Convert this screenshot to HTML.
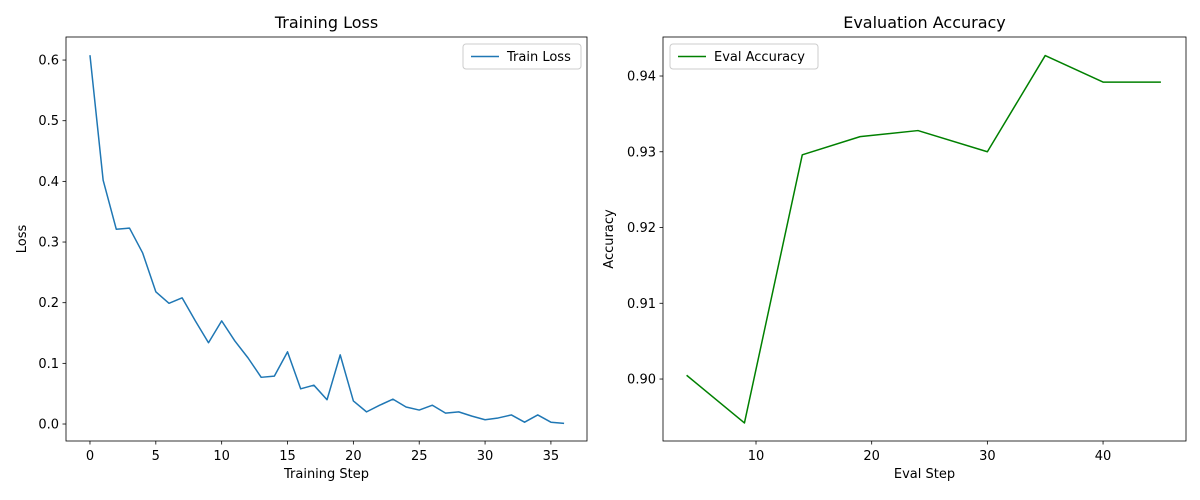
<!DOCTYPE html>
<html><head><meta charset="utf-8"><style>
html,body{margin:0;padding:0;background:#fff;}
svg{display:block;font-family:"DejaVu Sans","Liberation Sans",sans-serif;}
</style></head><body>
<svg id="chart" width="1200" height="500"></svg>
<script>
const lossSteps = [0,1,2,3,4,5,6,7,8,9,10,11,12,13,14,15,16,17,18,19,20,21,22,23,24,25,26,27,28,29,30,31,32,33,34,35,36];
const lossValues = [0.608,0.402,0.321,0.323,0.282,0.218,0.199,0.208,0.170,0.134,0.170,0.137,0.109,0.077,0.079,0.119,0.058,0.064,0.040,0.114,0.038,0.020,0.031,0.041,0.028,0.023,0.031,0.018,0.020,0.013,0.007,0.010,0.015,0.003,0.015,0.003,0.001];
const lossXTicks = [0,5,10,15,20,25,30,35];
const lossYTicks = [0.0,0.1,0.2,0.3,0.4,0.5,0.6];
const evalSteps = [4,9,14,19,24,30,35,40,45];
const evalValues = [0.9005,0.8942,0.9296,0.9320,0.9328,0.9300,0.9427,0.9392,0.9392];
const evalXTicks = [10,20,30,40];
const evalYTicks = [0.90,0.91,0.92,0.93,0.94];

const NS = "http://www.w3.org/2000/svg";
const svg = document.getElementById('chart');
function mk(tag, attrs, parent, text){
  const e = document.createElementNS(NS, tag);
  for (const k in attrs) e.setAttribute(k, attrs[k]);
  if (text !== undefined) e.textContent = text;
  (parent || svg).appendChild(e);
  return e;
}
function panel(o){
  const g = mk('g', {});
  
  
  const sx = v => o.x0 + (v - o.xmin) / (o.xmax - o.xmin) * (o.x1 - o.x0);
  const sy = v => o.y1 - (v - o.ymin) / (o.ymax - o.ymin) * (o.y1 - o.y0);
  o.xt.forEach(t => {
    const x = sx(t);
    const l = mk('line', {x1:x, x2:x, y1:o.y1, y2:o.y1+3.5, stroke:'#000', 'stroke-width':0.8}, g);
    
    
    const tx = mk('text', {x:x, y:o.y1+19, 'font-size':13, 'text-anchor':'middle'}, g, String(t));
    
    
  });
  o.yt.forEach(t => {
    const y = sy(t);
    const l = mk('line', {x1:o.x0-3.5, x2:o.x0, y1:y, y2:y, stroke:'#000', 'stroke-width':0.8}, g);
    
    
    const tx = mk('text', {x:o.x0-7, y:y+4.5, 'font-size':13, 'text-anchor':'end'}, g, t.toFixed(o.dec));
    
    
  });
  const pts = o.xs.map((x, i) => sx(x).toFixed(2) + ',' + sy(o.ys[i]).toFixed(2)).join(' ');
  const pl = mk('polyline', {points:pts, fill:'none', stroke:o.color, 'stroke-width':1.5, 'stroke-linejoin':'round'}, g);
  
  
  const fr = mk('rect', {x:o.x0, y:o.y0, width:o.x1-o.x0, height:o.y1-o.y0, fill:'none', stroke:'#000', 'stroke-width':0.8}, g);
  
  
  const ti = mk('text', {x:(o.x0+o.x1)/2, y:o.y0-9, 'font-size':16, 'text-anchor':'middle'}, g, o.title);
  
  
  const xl = mk('text', {x:(o.x0+o.x1)/2, y:o.y1+37, 'font-size':13, 'text-anchor':'middle'}, g, o.xlabel);
  
  
  const yx = o.ylx, yy = (o.y0+o.y1)/2;
  const yl = mk('text', {x:yx, y:yy, 'font-size':13, 'text-anchor':'middle', transform:`rotate(-90 ${yx} ${yy})`}, g, o.ylabel);
  
  
  const lg = mk('g', {}, g);
  
  
  mk('rect', {x:o.lx, y:o.y0+7, width:o.lw, height:25, rx:3, fill:'#fff', stroke:'#ccc', 'stroke-width':1}, lg);
  mk('line', {x1:o.lx+8, x2:o.lx+36, y1:o.y0+19.5, y2:o.y0+19.5, stroke:o.color, 'stroke-width':1.5}, lg);
  const lt = mk('text', {x:o.lx+44, y:o.y0+24, 'font-size':13}, lg, o.legend);
  
  
}
panel({name:'training-loss-panel', x0:66, x1:587, y0:37, y1:441, xmin:-1.82, xmax:37.74, ymin:-0.028, ymax:0.638,
  xs:lossSteps, ys:lossValues, xt:lossXTicks, yt:lossYTicks, dec:1, color:'#1f77b4', seriesName:'train-loss-line',
  title:'Training Loss', xlabel:'Training Step', ylabel:'Loss', ylx:26, legend:'Train Loss', lx:463, lw:118});
panel({name:'eval-accuracy-panel', x0:663, x1:1186, y0:37, y1:441, xmin:1.96, xmax:47.17, ymin:0.89182, ymax:0.94515,
  xs:evalSteps, ys:evalValues, xt:evalXTicks, yt:evalYTicks, dec:2, color:'#008000', seriesName:'eval-accuracy-line',
  title:'Evaluation Accuracy', xlabel:'Eval Step', ylabel:'Accuracy', ylx:613, legend:'Eval Accuracy', lx:670, lw:148});
</script>
</body></html>
